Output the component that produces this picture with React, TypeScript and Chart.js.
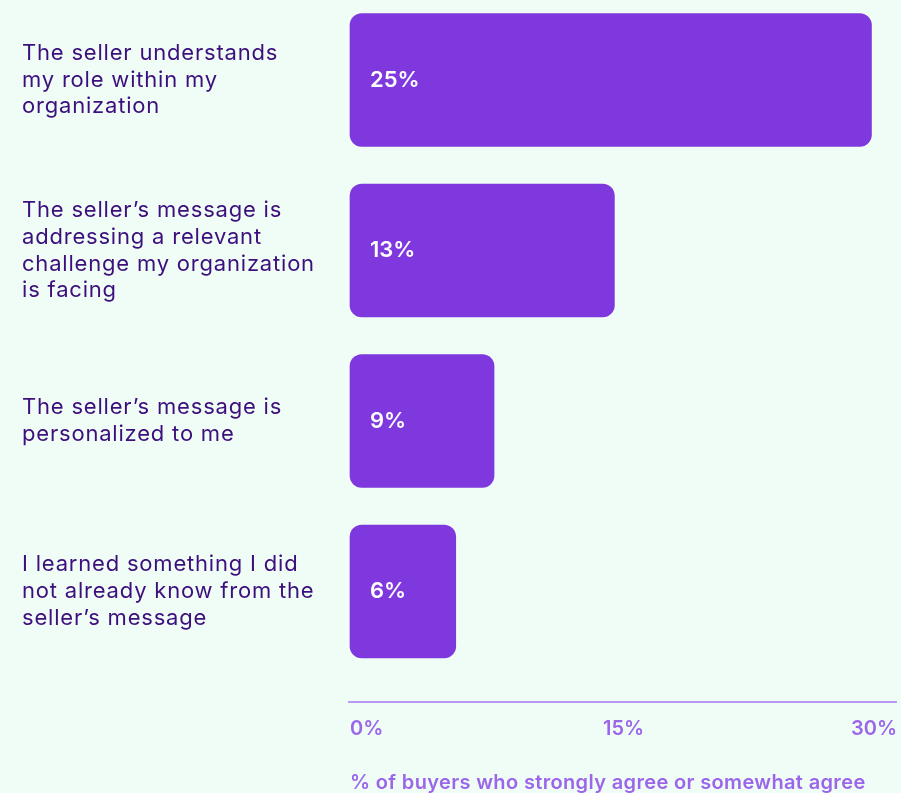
import React, { useEffect, useRef } from "react";
import { Chart, registerables } from "chart.js";

Chart.register(...registerables);

// Categories (multi-line labels as shown)
const categories: string[][] = [
  ["The seller understands", "my role within my", "organization"],
  ["The seller’s message is", "addressing a relevant", "challenge my organization", "is facing"],
  ["The seller’s message is", "personalized to me"],
  ["I learned something I did", "not already know from the", "seller’s message"],
];

// Printed values inside the bars
const valueLabels: string[] = ["25%", "13%", "9%", "6%"];

// Bar lengths as drawn against the axis (in axis % units)
const barLengths: number[] = [28.6, 14.5, 7.9, 5.8];

// Axis ticks
const tickValues: number[] = [0, 15, 30];
const axisTitle = "% of buyers who strongly agree or somewhat agree";

const BG = "#effdf6";
const BAR = "#7e38de";
const LABEL = "#3d0f7d";
const TICK = "#9b66ea";
const AXIS_LINE = "#b79af1";
const FONT = "Inter, 'Noto Sans', sans-serif";

function withSpacing(fn: (...a: any[]) => void, getCtx: () => any, spacing: string) {
  return (...args: any[]) => {
    const ctx = getCtx();
    const prev = ctx.letterSpacing;
    ctx.letterSpacing = spacing;
    try {
      fn(...args);
    } finally {
      ctx.letterSpacing = prev ?? "0px";
    }
  };
}

export default function App() {
  const canvasRef = useRef<HTMLCanvasElement | null>(null);

  useEffect(() => {
    document.body.style.margin = "0";
    document.body.style.background = BG;
    const canvas = canvasRef.current;
    if (!canvas) return;

    const valueLabelPlugin = {
      id: "valueLabels",
      afterDatasetsDraw(chart: any) {
        const ctx = chart.ctx;
        const meta = chart.getDatasetMeta(0);
        ctx.save();
        ctx.font = `600 22px ${FONT}`;
        ctx.fillStyle = "#ffffff";
        ctx.textAlign = "left";
        ctx.textBaseline = "middle";
        meta.data.forEach((bar: any, i: number) => {
          ctx.fillText(valueLabels[i], bar.base + 20, bar.y);
        });
        ctx.restore();
      },
    };

    const axisLinePlugin = {
      id: "axisLine",
      afterDraw(chart: any) {
        const x = chart.scales.x;
        const ctx = chart.ctx;
        const y = x.top + 110.5;
        ctx.save();
        ctx.strokeStyle = AXIS_LINE;
        ctx.lineWidth = 2;
        ctx.beginPath();
        ctx.moveTo(x.left - 2, y);
        ctx.lineTo(x.right, y);
        ctx.stroke();
        ctx.restore();
      },
    };

    const chart = new Chart(canvas, {
      type: "bar",
      data: {
        labels: categories,
        datasets: [
          {
            data: barLengths,
            backgroundColor: BAR,
            borderRadius: 12,
            borderSkipped: false,
            barThickness: 133,
            clip: false as any,
          },
        ],
      },
      options: {
        indexAxis: "y",
        animation: false,
        responsive: true,
        maintainAspectRatio: false,
        layout: { padding: { left: 22, right: 4, top: 80, bottom: 0 } },
        plugins: {
          legend: { display: false },
          tooltip: { enabled: false },
        },
        scales: {
          y: {
            type: "category",
            offset: false,
            grid: { display: false },
            border: { display: false },
            ticks: {
              autoSkip: false,
              crossAlign: "far",
              color: LABEL,
              font: { family: FONT, size: 22, weight: "400", lineHeight: 1.22 },
            },
            afterFit(scale: any) {
              scale.width = 328;
              scale.paddingTop = 0;
              scale.paddingBottom = 0;
              if (!scale._spaced) {
                scale._spaced = true;
                scale.drawLabels = withSpacing(scale.drawLabels.bind(scale), () => scale.ctx, "0.8px");
              }
            },
          },
          x: {
            type: "linear",
            min: 0,
            max: 30,
            grid: { display: false, drawTicks: false },
            border: { display: false },
            afterBuildTicks(scale: any) {
              scale.ticks = tickValues.map((v) => ({ value: v }));
            },
            ticks: {
              align: "inner",
              padding: 125,
              color: TICK,
              font: { family: FONT, size: 20, weight: "600" },
              callback: (v: any) => `${v}%`,
            },
            title: {
              display: true,
              text: axisTitle,
              align: "start",
              color: TICK,
              padding: 0,
              font: { family: FONT, size: 20, weight: "600", lineHeight: 1.0 },
            },
            afterFit(scale: any) {
              scale.height = 201.5;
              scale.paddingLeft = 0;
              scale.paddingRight = 0;
              if (!scale._spaced) {
                scale._spaced = true;
                scale.drawTitle = withSpacing(scale.drawTitle.bind(scale), () => scale.ctx, "0.35px");
              }
            },
          },
        },
      },
      plugins: [valueLabelPlugin, axisLinePlugin],
    });

    return () => chart.destroy();
  }, []);

  return (
    <div style={{ position: "relative", width: 901, height: 793, background: BG }}>
      <canvas ref={canvasRef} />
    </div>
  );
}
